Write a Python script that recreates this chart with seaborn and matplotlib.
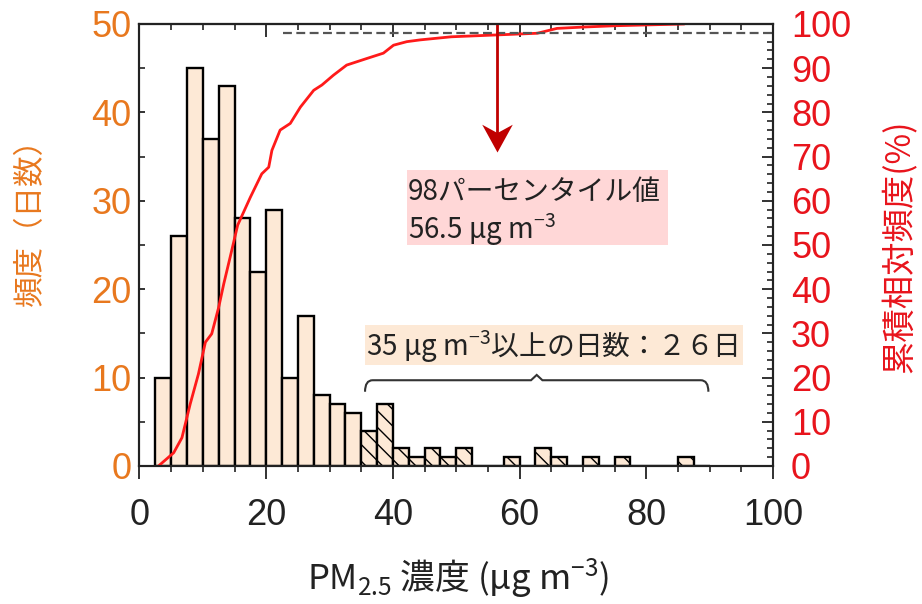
import pandas as pd
import seaborn as sns
import matplotlib.pyplot as plt
from matplotlib.path import Path
from matplotlib.patches import PathPatch, Rectangle
from matplotlib.ticker import MultipleLocator

# daily PM2.5 histogram: 2.5 ug/m3 bins starting at 2.5
bin_start = 2.5
bin_width = 2.5
day_counts = [10, 26, 45, 37, 43, 28, 22, 29, 10, 17, 8, 7, 6, 4, 7,
              2, 1, 2, 1, 2, 0, 0, 1, 0, 2, 1, 0, 1, 0, 1, 0, 0, 0, 1, 0]

# cumulative relative frequency (%)
cum_x = [3.0, 5.4, 6.7, 8.0, 9.3, 10.4, 11.4, 12.5, 13.3, 14.3, 15.5, 17.5,
         19.3, 20.4, 20.9, 22.2, 23.8, 25.4, 27.5, 28.8, 30.6, 32.7, 35.9,
         38.5, 40.1, 42.2, 44.3, 49.2, 56.0, 62.8, 65.9, 70.0, 75.0, 86.0]
cum_pct = [0.0, 3.0, 6.4, 14.0, 20.8, 28.0, 29.9, 35.9, 41.2, 47.2, 54.5, 60.8,
           66.1, 67.6, 71.4, 76.0, 77.5, 81.2, 85.0, 86.2, 88.4, 90.7, 92.2,
           93.4, 95.2, 96.0, 96.4, 97.1, 97.5, 97.9, 99.0, 99.3, 99.6, 100.0]

p98_value = 56.5
p98_level = 98
threshold = 35
days_over = 26

orange = '#e8781e'
red_axis = '#e8141c'
red_line = '#ff1a1a'
dark_red = '#c00000'
bar_face = '#fde9d6'

sns.set_style('white')
plt.rcParams['font.family'] = ['Liberation Sans', 'Noto Sans CJK JP', 'DejaVu Sans']
plt.rcParams['mathtext.fontset'] = 'custom'
plt.rcParams['mathtext.default'] = 'regular'
plt.rcParams['hatch.linewidth'] = 1.0
jp = 'Noto Sans CJK JP'

edges = [bin_start + bin_width * i for i in range(len(day_counts) + 1)]
df = pd.DataFrame({'pm25': [e + bin_width / 2 for e in edges[:-1]], 'days': day_counts})

fig = plt.figure(figsize=(9.22, 6.04), dpi=100)
ax = fig.add_axes([0.1513, 0.2285, 0.6871, 0.7318])

sns.histplot(data=df, x='pm25', weights='days', bins=edges, color=bar_face,
             alpha=1, edgecolor='black', linewidth=1.7, ax=ax)
for p in ax.patches:
    if p.get_x() >= threshold - 0.01:
        p.set_hatch('\\\\')

ax.set_xlim(0, 100)
ax.set_ylim(0, 50)
ax.set_xlabel('')
ax.set_ylabel('')

ax2 = ax.twinx()
sns.lineplot(x=cum_x, y=cum_pct, color=red_line, linewidth=2, sort=False, ax=ax2)
ax2.set_ylim(0, 100)
ax2.hlines(p98_level, 22.7, 100, colors='#555555', linestyles=(0, (4, 2)), linewidth=1.6)

# arrow pointing at the 98th percentile value
tip = 71
head = Path([(0, 0), (-0.55, 1.0), (0, 0.7), (0.55, 1.0), (0, 0)],
            [Path.MOVETO, Path.LINETO, Path.LINETO, Path.LINETO, Path.CLOSEPOLY])
ax2.plot([p98_value, p98_value], [100, tip + 3], color=dark_red, lw=2, solid_capstyle='butt')
ax2.plot([p98_value], [tip], marker=head, markersize=40, color=dark_red, mec='none')

# percentile annotation
ax.add_patch(Rectangle((42.2, 25.0), 41.3, 8.5, facecolor='#ffd7d7', edgecolor='none', zorder=3))
ax.text(42.4, 31.0, f'{p98_level}パーセンタイル値', fontsize=20, family=jp,
        color='#222222', va='center', ha='left', zorder=4)
ax.text(42.4, 26.7, f'{p98_value} μg m$^{{-3}}$', fontsize=20, family=jp,
        color='#222222', va='center', ha='left', zorder=4)

# days above threshold annotation
full = str.maketrans('0123456789', '０１２３４５６７８９')
ax.add_patch(Rectangle((35.6, 11.4), 59.7, 4.55, facecolor='#fde9d6', edgecolor='none', zorder=3))
ax.text(35.8, 13.5, f'{threshold} μg m$^{{-3}}$以上の日数：{str(days_over).translate(full)}日',
        fontsize=20, family=jp, color='#222222', va='center', ha='left', zorder=4)

# brace over the bins >= threshold
bl, br, by, bend, bpk = 35.6, 89.8, 9.7, 8.4, 10.3
mid = (bl + br) / 2
verts = [(bl, bend), (bl, by), (bl + 1.2, by), (mid - 0.9, by), (mid, bpk),
         (mid + 0.9, by), (br - 1.2, by), (br, by), (br, bend)]
codes = [Path.MOVETO, Path.CURVE3, Path.CURVE3, Path.LINETO, Path.LINETO,
         Path.LINETO, Path.LINETO, Path.CURVE3, Path.CURVE3]
ax.add_patch(PathPatch(Path(verts, codes), facecolor='none', edgecolor='#333333', lw=1.5, zorder=4))

# ticks and spines
for a in (ax, ax2):
    for s in a.spines.values():
        s.set_linewidth(1.5)
        s.set_color('#222222')
ax.xaxis.set_major_locator(MultipleLocator(20))
ax.xaxis.set_minor_locator(MultipleLocator(5))
ax.yaxis.set_major_locator(MultipleLocator(10))
ax.yaxis.set_minor_locator(MultipleLocator(5))
ax2.yaxis.set_major_locator(MultipleLocator(10))
ax2.yaxis.set_minor_locator(MultipleLocator(2))

ax.tick_params(axis='x', which='both', direction='out', top=False, bottom=True,
               labelsize=26, pad=14, colors='#222222')
ax.tick_params(axis='x', which='major', length=9, width=1.3)
ax.tick_params(axis='x', which='minor', length=4, width=1.2)
ax.tick_params(axis='y', which='both', direction='in', left=True, right=False,
               labelsize=26, pad=6, labelcolor=orange, color='#222222')
ax.tick_params(axis='y', which='major', length=4, width=1.3)
ax.tick_params(axis='y', which='minor', length=4, width=1.2)
ax2.tick_params(axis='y', which='both', direction='in', right=True, left=False,
                labelsize=26, pad=13, labelcolor=red_axis, color='#222222')
ax2.tick_params(axis='y', which='major', length=8, width=1.3)
ax2.tick_params(axis='y', which='minor', length=4, width=1.2)

top = ax.secondary_xaxis('top')
top.xaxis.set_major_locator(MultipleLocator(20))
top.xaxis.set_minor_locator(MultipleLocator(5))
top.tick_params(axis='x', which='both', direction='in', labeltop=False, color='#222222')
top.tick_params(axis='x', which='major', length=9, width=1.3)
top.tick_params(axis='x', which='minor', length=4, width=1.2)
top.spines['top'].set_linewidth(1.5)

# axis labels
fig.text(0.497, 0.043, 'PM$_{2.5}$ 濃度 (μg m$^{-3}$)', fontsize=25, family=jp,
         color='#222222', ha='center', va='center')
fig.text(0.033, 0.645, '頻度（日数）', fontsize=22, family=jp, color=orange,
         rotation=90, ha='center', va='center')
fig.text(0.976, 0.593, '累積相対頻度(%)', fontsize=24, family=jp, color=red_axis,
         rotation=90, ha='center', va='center')

fig.savefig('out.png', dpi=100)
